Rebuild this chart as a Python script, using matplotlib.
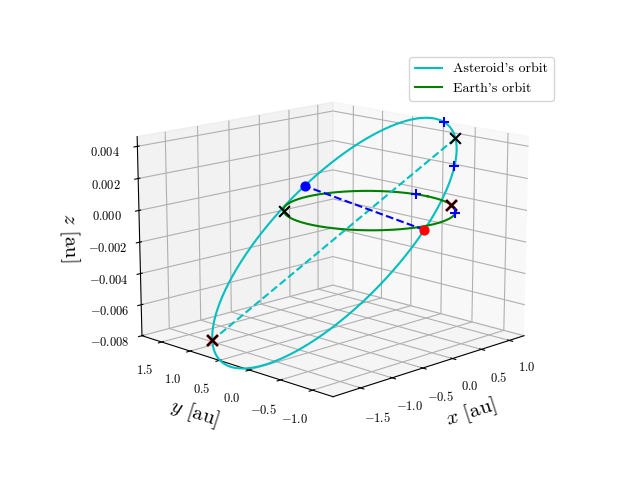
import numpy as np
import matplotlib
matplotlib.use("Agg")
import matplotlib.pyplot as plt

plt.rcParams["font.family"] = "serif"
plt.rcParams["font.serif"] = ["cmr10"]
plt.rcParams["mathtext.fontset"] = "cm"
plt.rcParams["axes.formatter.use_mathtext"] = True

# asteroid orbital elements (estimated)
a_ast = 1.42
e_ast = 0.30
inc_deg = 0.28
node_deg = -104.0
peri_deg = 64.0

# markers (true anomaly of asteroid, angle of Earth) in degrees
ast_plus_nu = [-25.0, 25.0]
earth_plus_deg = [10.0, -55.0]
ast_black_nu = [0.0, 180.0]
earth_black_deg = [140.0, -30.0]
ast_red_nu = [180.0]
earth_red_deg = [-30.0]


def ast_pos(nu_deg):
    nu = np.radians(np.asarray(nu_deg, dtype=float))
    w, W, i = np.radians(peri_deg), np.radians(node_deg), np.radians(inc_deg)
    r = a_ast * (1 - e_ast**2) / (1 + e_ast * np.cos(nu))
    th = w + nu
    x = r * (np.cos(W) * np.cos(th) - np.sin(W) * np.sin(th) * np.cos(i))
    y = r * (np.sin(W) * np.cos(th) + np.cos(W) * np.sin(th) * np.cos(i))
    z = r * np.sin(th) * np.sin(i)
    return x, y, z


def earth_pos(ang_deg):
    t = np.radians(np.asarray(ang_deg, dtype=float))
    return np.cos(t), np.sin(t), np.zeros_like(t)


fig = plt.figure(figsize=(6.4, 4.8))
ax = fig.add_subplot(projection="3d")

nu = np.linspace(0, 360, 400)
ax.plot(*ast_pos(nu), color="c", label="Asteroid's orbit")
ax.plot(*earth_pos(nu), color="g", label="Earth's orbit")

# line of apsides and line of nodes
ax.plot(*ast_pos([0.0, 180.0]), "c--")
ax.plot(*ast_pos([-peri_deg, 180.0 - peri_deg]), "b--")
xa, ya, za = ast_pos([180.0 - peri_deg])
ax.scatter(xa, ya, za, color="b", s=40, depthshade=False)
xa, ya, za = ast_pos([-peri_deg])
ax.scatter(xa, ya, za, color="r", s=40, depthshade=False)

for pts in (ast_pos(ast_plus_nu), earth_pos(earth_plus_deg)):
    ax.scatter(*pts, color="b", marker="+", s=60, depthshade=False)
for pts in (ast_pos(ast_red_nu), earth_pos(earth_red_deg)):
    ax.scatter(*pts, color="r", marker="x", s=60, linewidths=2, depthshade=False)
for pts in (ast_pos(ast_black_nu), earth_pos(earth_black_deg)):
    ax.scatter(*pts, color="k", marker="x", s=60, linewidths=1.5, depthshade=False)

ax.set_xlabel("$x$ [au]", fontsize=15)
ax.set_ylabel("$y$ [au]", fontsize=15)
ax.set_zlabel("$z$ [au]", fontsize=15)
ax.set_zlim(-0.008, 0.0046)
ax.set_zticks([-0.008, -0.006, -0.004, -0.002, 0.0, 0.002, 0.004])
ax.set_zticklabels(["$-0.008$", "$-0.006$", "$-0.004$", "$-0.002$",
                    "$0.000$", "$0.002$", "$0.004$"])
ax.set_xticks([-1.5, -1.0, -0.5, 0.0, 0.5, 1.0])
ax.set_yticks([-1.0, -0.5, 0.0, 0.5, 1.0, 1.5])
ax.tick_params(labelsize=9)
ax.view_init(elev=14, azim=-135)
ax.set_box_aspect(None, zoom=1.15)
ax.legend(loc="upper right", bbox_to_anchor=(1.13, 1.02))
fig.savefig("out.png", dpi=100)
